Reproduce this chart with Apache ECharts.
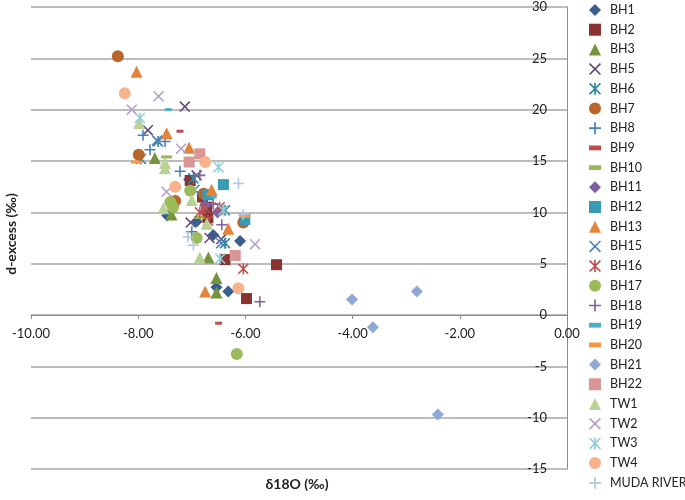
<!DOCTYPE html>
<html><head><meta charset="utf-8">
<script src="https://cdn.jsdelivr.net/npm/echarts@6/dist/echarts.min.js"></script>
<style>html,body{margin:0;padding:0;background:#fff}#c{width:685px;height:500px}</style>
</head><body><div id="c"></div>
<script>
// ---- data: [δ18O, d-excess] ----
const BH1 = [[-7.46,9.7],[-6.91,9.1],[-6.10,7.2],[-6.32,2.3],[-6.54,2.7],[-7.05,13.2],[-6.60,7.8]];
const BH2 = [[-5.42,4.9],[-5.98,1.6],[-7.03,13.1],[-6.72,10.5],[-6.70,9.5],[-6.38,5.4],[-6.80,11.5]];
const BH3 = [[-7.69,15.3],[-7.38,9.8],[-6.69,5.6],[-6.54,3.6],[-6.54,2.2]];
const BH5 = [[-7.13,20.3],[-7.82,18.0],[-6.91,13.6],[-7.02,9.0],[-6.67,7.5],[-6.45,7.4]];
const BH6 = [[-7.63,16.9],[-7.95,15.2],[-6.97,13.3],[-6.38,10.2],[-6.38,7.0]];
const BH7 = [[-8.38,25.2],[-7.99,15.6],[-7.31,11.1],[-6.04,9.0],[-6.78,11.8]];
const BH8 = [[-7.91,17.5],[-7.50,16.9],[-7.22,14.0],[-7.00,8.1],[-7.78,16.1]];
const BH9 = [[-7.22,17.9],[-6.50,-0.8],[-6.80,10.0]];
const BH10 = [[-7.47,15.4],[-6.85,9.5]];
const BH11 = [[-6.52,10.0],[-6.75,10.7]];
const BH12 = [[-6.41,12.7],[-6.01,9.3],[-6.70,11.7]];
const BH13 = [[-8.03,23.7],[-7.47,17.7],[-7.05,16.3],[-6.63,12.2],[-6.32,8.4],[-6.75,2.3]];
const BH15 = [[-7.65,17.0],[-6.95,12.2],[-6.45,7.0]];
const BH16 = [[-6.04,4.5],[-6.75,10.4],[-6.48,10.5],[-6.85,10.0],[-6.70,9.2]];
const BH17 = [[-6.16,-3.8],[-7.03,12.1],[-7.35,10.5],[-6.91,7.5],[-7.40,11.0]];
const BH18 = [[-5.73,1.3],[-6.44,8.8],[-6.85,13.6],[-6.60,10.8]];
const BH19 = [[-7.44,20.0],[-6.60,11.5]];
const BH20 = [[-8.03,14.9],[-6.01,9.6]];
const BH21 = [[-4.01,1.5],[-3.62,-1.2],[-2.80,2.3],[-2.41,-9.7]];
const BH22 = [[-6.85,15.7],[-7.05,14.9],[-6.19,5.8]];
const TW1 = [[-7.98,18.7],[-7.50,14.8],[-7.50,14.3],[-7.53,10.4],[-7.00,11.2],[-6.72,8.9],[-6.85,5.6]];
const TW2 = [[-7.62,21.3],[-8.12,20.0],[-7.20,16.2],[-7.47,12.0],[-5.82,6.9]];
const TW3 = [[-7.97,19.2],[-6.50,14.4],[-6.41,10.2],[-6.47,5.5]];
const TW4 = [[-8.25,21.6],[-6.75,14.9],[-7.31,12.5],[-6.13,2.6]];
const MUDA_RIVER = [[-6.13,12.8],[-7.07,7.6],[-6.97,6.8],[-6.04,9.8]];

const seriesNames = ['BH1','BH2','BH3','BH5','BH6','BH7','BH8','BH9','BH10','BH11','BH12','BH13','BH15','BH16','BH17','BH18','BH19','BH20','BH21','BH22','TW1','TW2','TW3','TW4','MUDA RIVER'];
const seriesData = [BH1,BH2,BH3,BH5,BH6,BH7,BH8,BH9,BH10,BH11,BH12,BH13,BH15,BH16,BH17,BH18,BH19,BH20,BH21,BH22,TW1,TW2,TW3,TW4,MUDA_RIVER];

// ---- styles ----
const X = 'path://M0,1L1,0L10,9L9,10Z M9,0L10,1L1,10L0,9Z';
const STAR = 'path://M0,1L1,0L10,9L9,10Z M9,0L10,1L1,10L0,9Z M4.3,0L5.7,0L5.7,10L4.3,10Z';
const PLUS = 'path://M4.3,0L5.7,0L5.7,10L4.3,10Z M0,4.3L10,4.3L10,5.7L0,5.7Z';
const DASH = 'path://M0,0L10,0L10,4L0,4Z';
const styles = [
  ['diamond','#3A5F8F',12],
  ['rect','#8B3331',11],
  ['triangle','#77933C',12],
  [X,'#5F497A',11],
  [STAR,'#31859C',11],
  ['circle','#B7652B',12],
  [PLUS,'#4A7EBB',11],
  [DASH,'#BE4B48',[7,3]],
  [DASH,'#98B954',[11,3]],
  ['diamond','#7D60A0',12],
  ['rect','#3A9AB3',11],
  ['triangle','#E3843C',12],
  [X,'#4F81BD',11],
  [STAR,'#C0504D',11],
  ['circle','#9BBB59',12],
  [PLUS,'#8064A2',11],
  [DASH,'#4BACC6',[7,3]],
  [DASH,'#F79646',[11,3]],
  ['diamond','#8FA9D4',12],
  ['rect','#D99694',11],
  ['triangle','#B9D195',12],
  [X,'#B3A2C7',11],
  [STAR,'#93CDDD',11],
  ['circle','#F9B38C',12],
  [PLUS,'#B0C6E2',11]
];

const FONT = 'Lato, "Open Sans", "DejaVu Sans", sans-serif';
const chart = echarts.init(document.getElementById('c'));
chart.setOption({
  animation: false,
  backgroundColor: '#fff',
  grid: {left: 31, right: 118, top: 7, bottom: 31},
  legend: {
    orient: 'vertical', left: 589, top: 3.5, height: 496, padding: 0,
    itemWidth: 12, itemHeight: 12, itemGap: 6.7,
    textStyle: {fontFamily: FONT, fontSize: 12.5, lineHeight: 13, color: '#222', padding: [0, 0, 0, 4]},
    data: seriesNames
  },
  xAxis: {
    type: 'value', min: -10, max: 0, interval: 2, offset: -154,
    axisLine: {onZero: false, lineStyle: {color: '#8c8c8c', width: 1}},
    axisTick: {show: true, length: 4, lineStyle: {color: '#8c8c8c'}},
    axisLabel: {formatter: v => v.toFixed(2), fontFamily: FONT, fontSize: 13, color: '#222', margin: 12},
    splitLine: {show: false}
  },
  yAxis: {
    type: 'value', min: -15, max: 30, interval: 5, position: 'right',
    axisLine: {show: true, onZero: false, lineStyle: {color: '#8c8c8c', width: 1}},
    axisTick: {show: false},
    axisLabel: {inside: true, margin: 20, fontFamily: FONT, fontSize: 13, color: '#222'},
    splitLine: {show: true, lineStyle: {color: '#a6a6a6', width: 1.5}}
  },
  graphic: [
    {type: 'text', x: 11, y: 234, rotation: Math.PI/2,
     style: {text: 'd-excess (‰)', font: 'bold 14px ' + FONT, fill: '#222', align: 'center', verticalAlign: 'middle'}},
    {type: 'text', x: 297, y: 484,
     style: {text: 'δ18O (‰)', font: 'bold 14px ' + FONT, fill: '#222', align: 'center', verticalAlign: 'middle'}}
  ],
  series: seriesNames.map((n, i) => ({
    name: n, type: 'scatter', data: seriesData[i],
    symbol: styles[i][0], symbolSize: styles[i][2],
    itemStyle: {color: styles[i][1], opacity: 1}
  }))
});
</script></body></html>
